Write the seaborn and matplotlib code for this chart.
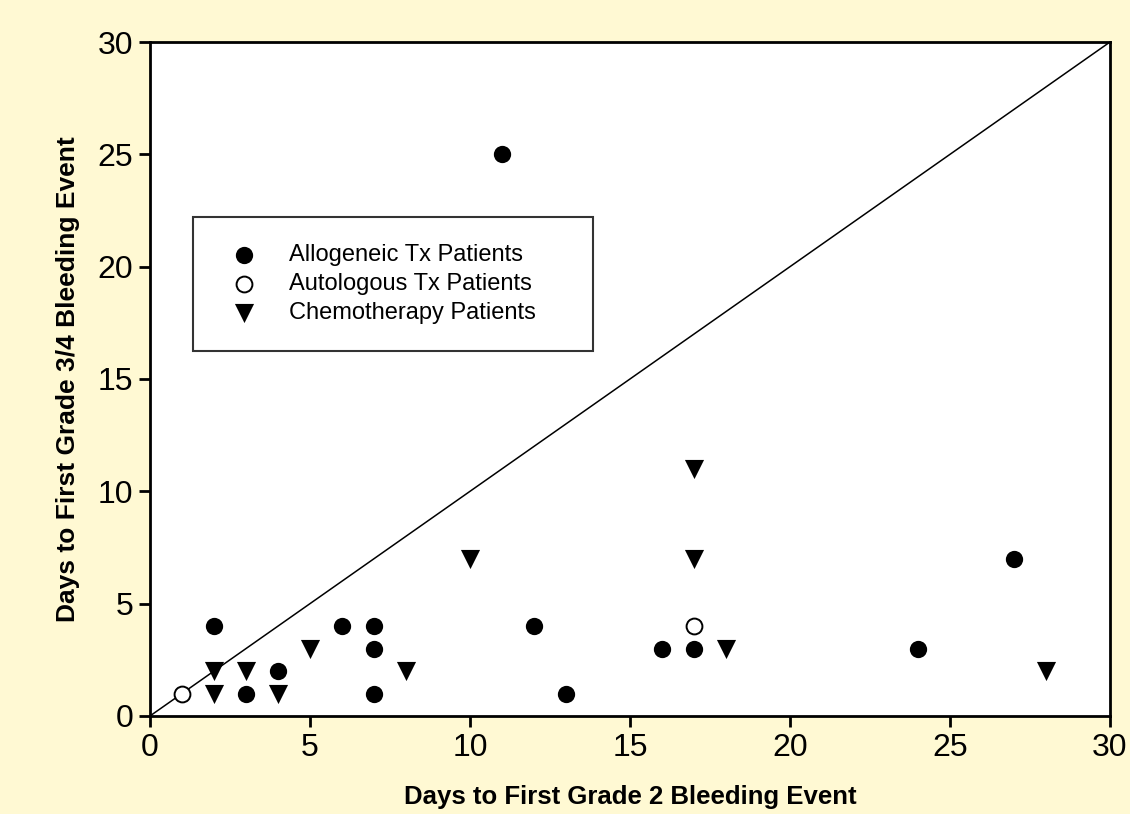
import matplotlib
matplotlib.use("Agg")
import matplotlib.pyplot as plt
import numpy as np
import pandas as pd
import seaborn as sns

# days to grade 2 event (x) vs days to grade 3/4 event (y)
allo_x = [2, 3, 4, 6, 7, 7, 7, 11, 12, 13, 16, 17, 24, 27]
allo_y = [4, 1, 2, 4, 4, 3, 1, 25, 4, 1, 3, 3, 3, 7]
auto_x = [1, 17]
auto_y = [1, 4]
chemo_x = [2, 2, 3, 4, 5, 8, 10, 17, 17, 18, 28]
chemo_y = [2, 1, 2, 1, 3, 2, 7, 11, 7, 3, 2]

ticks = [0, 5, 10, 15, 20, 25, 30]

sns.set_style("white")
plt.rcParams["font.family"] = ["Liberation Sans", "DejaVu Sans"]
plt.rcParams.update({"text.color": "black", "axes.labelcolor": "black",
                     "xtick.color": "black", "ytick.color": "black"})

bg = "#FFF9D3"
fig = plt.figure(figsize=(11.3, 8.14), dpi=100, facecolor=bg)
ax = fig.add_axes([0.1327, 0.1204, 0.8496, 0.828])
ax.set_facecolor("white")

ax.plot([0, 30], [0, 30], color="black", lw=1.1, zorder=1)

sns.scatterplot(x=allo_x, y=allo_y, ax=ax, marker="o", s=155, color="black",
                edgecolor="black", linewidth=0, label="Allogeneic Tx Patients", zorder=3)
sns.scatterplot(x=auto_x, y=auto_y, ax=ax, marker="o", s=130, facecolor="white",
                edgecolor="black", linewidth=1.4, label="Autologous Tx Patients", zorder=3)
sns.scatterplot(x=chemo_x, y=chemo_y, ax=ax, marker="v", s=190, color="black",
                edgecolor="black", linewidth=0, label="Chemotherapy Patients", zorder=3)

ax.set_xlim(0, 30)
ax.set_ylim(0, 30)
ax.set_xticks(ticks)
ax.set_yticks(ticks)
ax.set_xticklabels([str(t) for t in ticks], fontsize=23)
ax.set_yticklabels([str(t) for t in ticks], fontsize=23)
ax.tick_params(direction="out", length=8, width=2, pad=4, color="black",
               bottom=True, left=True)
for sp in ax.spines.values():
    sp.set_linewidth(2)
    sp.set_color("black")

lab_font = dict(fontweight="bold",
                family=["Liberation Sans Narrow", "Liberation Sans", "DejaVu Sans"])
ax.set_xlabel("Days to First Grade 2 Bleeding Event", labelpad=16, fontsize=18.5, **lab_font)
ax.set_ylabel("Days to First Grade 3/4 Bleeding Event", labelpad=13, fontsize=19, **lab_font)

leg = ax.legend(loc="upper left", bbox_to_anchor=(0.0448, 0.5386, 0.4167, 0.2018),
                mode="expand", fontsize=17, frameon=True, fancybox=False,
                edgecolor="black", borderpad=1.15, handlelength=2.0,
                handletextpad=0.9, labelspacing=0.3, borderaxespad=0)
leg.get_frame().set_linewidth(1.5)
for t in leg.get_texts():
    t.set_fontfamily(["Liberation Sans", "DejaVu Sans"])

fig.savefig("out.png", dpi=100, facecolor=bg)
